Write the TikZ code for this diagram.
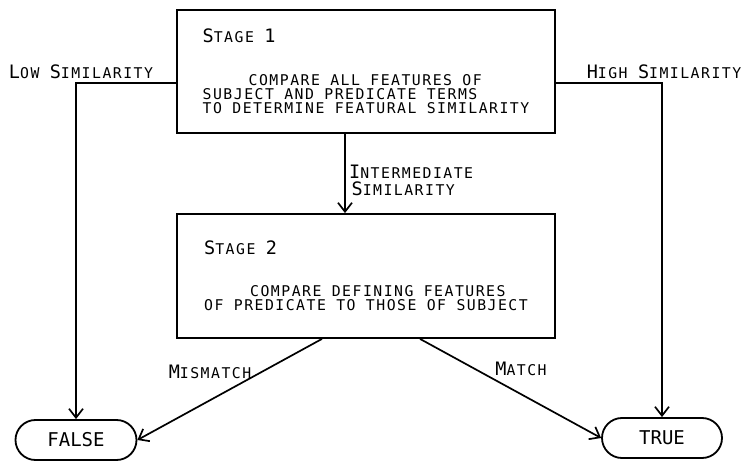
\documentclass[tikz,border=0pt]{standalone}
\usepackage{fontspec}
\setmainfont{DejaVu Sans Mono}[LetterSpace=10]
\usetikzlibrary{positioning}
\usetikzlibrary{arrows.meta}
\usetikzlibrary{shapes.misc}

\newcommand\capsize[1]{{\fontsize{18.5}{18}\selectfont #1}}
\newcommand\indentby{\hspace*{46pt}}

\begin{document}
\begin{tikzpicture}[x=1pt,y=-1pt,
    every node/.style={font=\fontsize{14.8}{14}\selectfont,inner sep=0pt},
    stagebox/.style={draw,line width=1.8pt,minimum width=378pt,minimum height=124pt,align=left},
    endbox/.style={draw,rounded rectangle,line width=1.8pt,minimum width=121pt,minimum height=40pt,
      font=\fontsize{19}{19}\selectfont\addfontfeature{LetterSpace=0}},
    flow/.style={line width=1.7pt,-{Straight Barb[length=9pt,width=14pt]}},
    lbl/.style={align=left}]
      \useasboundingbox (0,0) rectangle (745,462);
      %%%%%%%%%%%%%%%%%%%%%%%%%%%%%%%%%%%%%%%%%%%%%%%%%%%%%%%%%%%%%%%%%%%%%%%%%%
      %%% BEGIN: STAGES.
      %%%%%%%%%%%%%%%%%%%%%%%%%%%%%%%%%%%%%%%%%%%%%%%%%%%%%%%%%%%%%%%%%%%%%%%%%%
      \node[stagebox,minimum height=123pt] (stage1) at (366,71.5) {%
        \capsize{S}TAGE \capsize{1}\\[29pt]
        \indentby COMPARE ALL FEATURES OF\\
        SUBJECT AND PREDICATE TERMS\\
        TO DETERMINE FEATURAL SIMILARITY};
      \node[stagebox] (stage2) at (366,276) {%
        \capsize{S}TAGE \capsize{2}\\[28pt]
        \indentby COMPARE DEFINING FEATURES\\
        OF PREDICATE TO THOSE OF SUBJECT};
      %%%%%%%%%%%%%%%%%%%%%%%%%%%%%%%%%%%%%%%%%%%%%%%%%%%%%%%%%%%%%%%%%%%%%%%%%%
      %%% END: STAGES.
      %%%%%%%%%%%%%%%%%%%%%%%%%%%%%%%%%%%%%%%%%%%%%%%%%%%%%%%%%%%%%%%%%%%%%%%%%%

      % Outcomes.
      \node[endbox] (false) at (76,440) {FALSE};
      \node[endbox,minimum width=120pt] (true) at (662,438) {TRUE};

      % Turning points of the side lines.
      \coordinate (lowturn) at (76,83);
      \coordinate (highturn) at (662,83);

      % Connectors.
      \draw[flow] (stage1.west |- lowturn) -- (lowturn) -- (false);
      \draw[flow] (stage1.east |- highturn) -- (highturn) -- (true);
      \draw[flow] ([xshift=-21pt]stage1.south) -- ([xshift=-21pt]stage2.north);
      \draw[flow] ([xshift=-44pt]stage2.south) -- (false.east);
      \draw[flow] ([xshift=54pt]stage2.south) -- (true.west);

      % Labels.
      \node[lbl] (lowlbl) at (81,72) {\capsize{L}OW \capsize{S}IMILARITY};
      \node[lbl] (highlbl) at (664,72) {\capsize{H}IGH \capsize{S}IMILARITY};
      \node[lbl,anchor=north west] (interlbl) at (349,165) {\capsize{I}NTERMEDIATE\\[3pt]\,\capsize{S}IMILARITY};
      \node[lbl] (mismatchlbl) at (210,372) {\capsize{M}ISMATCH};
      \node[lbl] (matchlbl) at (521,369) {\capsize{M}ATCH};
\end{tikzpicture}
\end{document}
